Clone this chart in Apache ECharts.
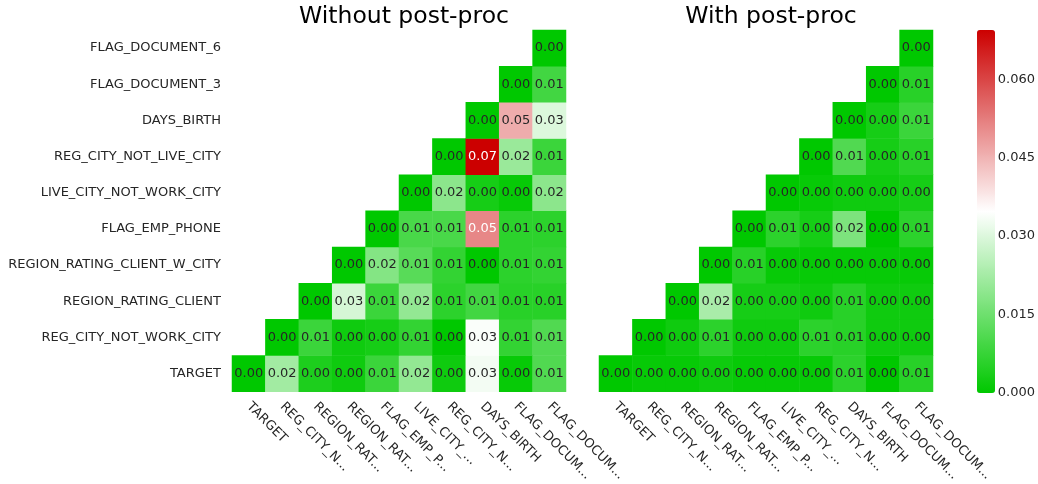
<!DOCTYPE html>
<html><head><meta charset="utf-8">
<script src="https://cdn.jsdelivr.net/npm/echarts@6/dist/echarts.min.js"></script>
<style>html,body{margin:0;padding:0;background:#fff}#c{width:1038px;height:484px}</style>
</head><body><div id="c"></div>
<script>
const features = ['TARGET','REG_CITY_NOT_WORK_CITY','REGION_RATING_CLIENT','REGION_RATING_CLIENT_W_CITY','FLAG_EMP_PHONE','LIVE_CITY_NOT_WORK_CITY','REG_CITY_NOT_LIVE_CITY','DAYS_BIRTH','FLAG_DOCUMENT_3','FLAG_DOCUMENT_6'];
const titles = ['Without post-proc', 'With post-proc'];
const colorbarTicks = [0, 0.015, 0.030, 0.045, 0.060];
const colorMin = 0;
const colorMax = 0.0694;
// rows from bottom (TARGET) to top (FLAG_DOCUMENT_6); null = masked cell
const withoutPostProc = [
  [0.000, 0.022, 0.004, 0.002, 0.008, 0.020, 0.002, 0.033, 0.001, 0.011],
  [null,  0.000, 0.008, 0.002, 0.003, 0.007, 0.000, 0.034, 0.007, 0.011],
  [null,  null,  0.000, 0.029, 0.008, 0.020, 0.006, 0.009, 0.0055, 0.0055],
  [null,  null,  null,  0.000, 0.018, 0.012, 0.007, 0.000, 0.006, 0.007],
  [null,  null,  null,  null,  0.000, 0.010, 0.010, 0.051, 0.006, 0.006],
  [null,  null,  null,  null,  null,  0.000, 0.019, 0.003, 0.001, 0.019],
  [null,  null,  null,  null,  null,  null,  0.000, 0.0694, 0.021, 0.008],
  [null,  null,  null,  null,  null,  null,  null,  0.000, 0.046, 0.030],
  [null,  null,  null,  null,  null,  null,  null,  null,  0.000, 0.009],
  [null,  null,  null,  null,  null,  null,  null,  null,  null,  0.000]
];
const withPostProc = [
  [0.000, 0.001, 0.001, 0.002, 0.001, 0.001, 0.001, 0.006, 0.000, 0.0055],
  [null,  0.000, 0.002, 0.006, 0.002, 0.002, 0.006, 0.0055, 0.002, 0.002],
  [null,  null,  0.000, 0.023, 0.003, 0.003, 0.002, 0.0055, 0.002, 0.002],
  [null,  null,  null,  0.000, 0.0055, 0.001, 0.001, 0.001, 0.001, 0.001],
  [null,  null,  null,  null,  0.000, 0.006, 0.003, 0.017, 0.000, 0.006],
  [null,  null,  null,  null,  null,  0.000, 0.001, 0.002, 0.002, 0.003],
  [null,  null,  null,  null,  null,  null,  0.000, 0.011, 0.003, 0.0055],
  [null,  null,  null,  null,  null,  null,  null,  0.000, 0.003, 0.008],
  [null,  null,  null,  null,  null,  null,  null,  null,  0.000, 0.0055],
  [null,  null,  null,  null,  null,  null,  null,  null,  null,  0.000]
];

const FONT = 'DejaVu Sans';
const stops = [[0,200,0],[255,255,255],[204,0,0]];
function cellRGB(v){
  let t = Math.max(0, Math.min(1, (v - colorMin) / (colorMax - colorMin))) * 2;
  const i = t >= 1 ? 1 : 0; const f = t - i;
  const a = stops[i], b = stops[Math.min(i+1,2)];
  return a.map((x,k)=> x + (b[k]-x)*f);
}
function textColor(v){
  const lin = cellRGB(v).map(c=>{c/=255; return c<=0.03928? c/12.92 : Math.pow((c+0.055)/1.055,2.4);});
  const L = 0.2126*lin[0]+0.7152*lin[1]+0.0722*lin[2];
  return L > 0.408 ? '#262626' : '#ffffff';
}
function buildData(m){
  const out = [];
  m.forEach((row, r)=> row.forEach((v, c)=>{
    if (v === null) return;
    out.push({value:[c, r, v], label:{color: textColor(v)}});
  }));
  return out;
}
function shortName(s){ return s.length > 10 ? s.slice(0,10) + '...' : s; }

const grids = [
  {left:232, top:30, width:334, height:363},
  {left:599, top:30, width:334, height:363},
  {left:977, top:30, width:18, height:363}
];
const xAxes = [0,1].map(g=>({
  type:'category', gridIndex:g, data:features,
  axisLine:{show:false}, axisTick:{show:false}, splitLine:{show:false},
  axisLabel:{rotate:-45, margin:13, fontSize:13, fontFamily:FONT, color:'#262626', interval:0, formatter:shortName}
}));
const yAxes = [0,1].map(g=>({
  type:'category', gridIndex:g, data:features,
  axisLine:{show:false}, axisTick:{show:false}, splitLine:{show:false},
  axisLabel:{show:g===0, margin:11, fontSize:13, fontFamily:FONT, color:'#262626', interval:0}
}));
xAxes.push({type:'value', gridIndex:2, show:false});
yAxes.push({
  type:'value', gridIndex:2, position:'right', min:colorMin, max:colorMax, interval:0.015,
  axisLine:{show:false}, axisTick:{show:false}, splitLine:{show:false},
  axisLabel:{margin:6, fontSize:13, fontFamily:FONT, color:'#262626',
    formatter:v=> colorbarTicks.some(t=>Math.abs(t-v)<1e-9) ? v.toFixed(3) : ''}
});

const option = {
  backgroundColor:'#ffffff',
  animation:false,
  title: titles.map((t,i)=>({
    text:t, left: grids[i].left + grids[i].width/2, top:0, textAlign:'center',
    textStyle:{fontSize:23.5, fontWeight:'normal', fontFamily:FONT, color:'#000'}
  })),
  grid: grids,
  xAxis: xAxes,
  yAxis: yAxes,
  visualMap: {
    type:'continuous', min:colorMin, max:colorMax, seriesIndex:[0,1],
    inRange:{color:['#00c800','#ffffff','#cc0000']},
    left:977, top:30, itemWidth:18, itemHeight:363, padding:0,
    calculable:false, text:null, hoverLink:false, textStyle:{color:'transparent'}
  },
  series: [withoutPostProc, withPostProc].map((m,i)=>({
    type:'heatmap', xAxisIndex:i, yAxisIndex:i, data: buildData(m),
    label:{show:true, fontSize:13, fontFamily:FONT, formatter:p=>p.value[2].toFixed(2)},
    itemStyle:{borderWidth:0},
    emphasis:{disabled:true}
  }))
};
const chart = echarts.init(document.getElementById('c'), null, {renderer:'canvas'});
chart.setOption(option);
</script></body></html>
